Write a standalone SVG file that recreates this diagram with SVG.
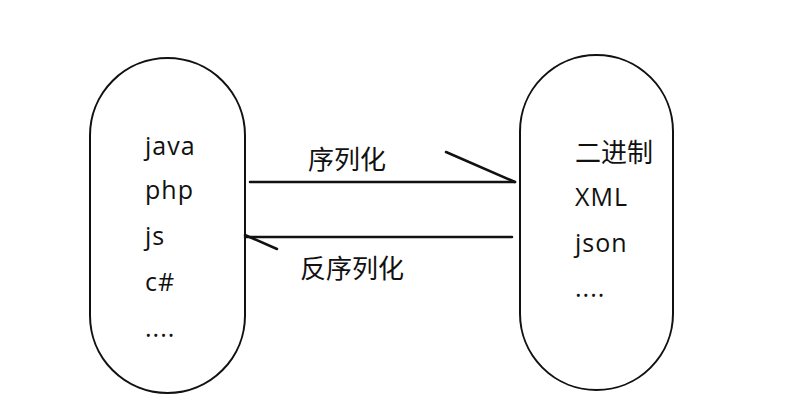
<svg xmlns="http://www.w3.org/2000/svg" width="808" height="403" viewBox="0 0 808 403">
<style>
.pill{fill:#fff;stroke:#111;stroke-width:2}
.t{font-family:"Open Sans","Noto Sans CJK SC",sans-serif;font-size:25px;letter-spacing:1px;fill:#111}
.c{font-family:"Noto Sans CJK SC",sans-serif;font-size:26px;fill:#111}
.ln{stroke:#111;stroke-width:2.5;fill:none;stroke-linecap:round}
</style>
<rect width="808" height="403" fill="#fff"/>
<g id="left">
<rect class="pill" x="90" y="58" width="155" height="335" rx="77.5"/>
<text class="t" x="145" y="155">java</text>
<text class="t" x="145" y="199">php</text>
<text class="t" x="145" y="245">js</text>
<text class="t" x="145" y="291">c#</text>
<text class="t" x="145" y="337">....</text>
</g>
<g id="right">
<rect class="pill" x="520" y="55" width="153" height="335" rx="76.5"/>
<text class="c" x="575" y="162">二进制</text>
<text class="t" x="575" y="206">XML</text>
<text class="t" x="575" y="252">json</text>
<text class="t" x="575" y="297">....</text>
</g>
<g id="connectors">
<line class="ln" x1="250" y1="182" x2="515" y2="182"/>
<line class="ln" x1="446" y1="152" x2="515" y2="182"/>
<line class="ln" x1="245" y1="237" x2="512" y2="237"/>
<line class="ln" x1="245" y1="235" x2="277" y2="249"/>
<text class="c" x="308" y="169">序列化</text>
<text class="c" x="300" y="278">反序列化</text>
</g>
</svg>
